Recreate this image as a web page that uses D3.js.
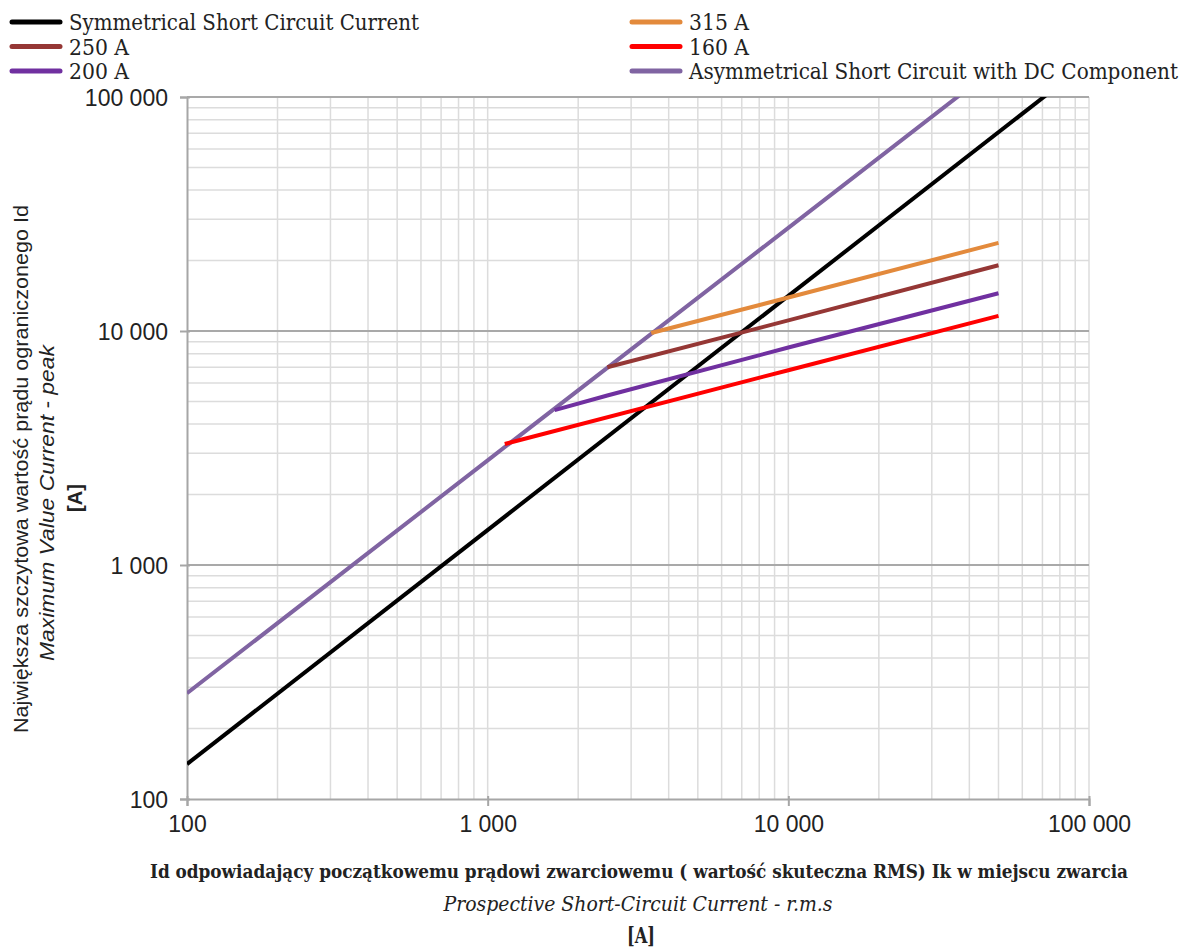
<!DOCTYPE html>
<html>
<head>
<meta charset="utf-8">
<script src="https://cdn.jsdelivr.net/npm/d3@7"></script>
<style>
  html, body { margin: 0; padding: 0; background: #fff; }
  svg { display: block; }
</style>
</head>
<body>
<svg id="chart" width="1184" height="948"></svg>
<script>
// axis ticks
const decadeTicks = [100, 1000, 10000, 100000];
const decadeLabels = ["100", "1 000", "10 000", "100 000"];

// series (x = prospective current Ik, y = peak current Id)
const symX = [100, 100000];
const symY = [141, 141421];
const asymX = [100, 1000, 10000, 40000];
const asymY = [283, 2800, 27600, 109600];
const i315X = [3500, 10000, 50000];
const i315Y = [9800, 13900, 23800];
const i250X = [2500, 10000, 50000];
const i250Y = [7000, 11100, 19100];
const i200X = [1670, 2500, 10000, 50000];
const i200Y = [4590, 5300, 8500, 14500];
const i160X = [1140, 10000, 50000];
const i160Y = [3290, 6800, 11600];

const seriesNames = ["Symmetrical Short Circuit Current", "250 A", "200 A",
  "315 A", "160 A", "Asymmetrical Short Circuit with DC Component"];
const seriesColors = ["#000000", "#953735", "#7030a0", "#e38a3c", "#ff0000", "#8064a2"];

const svg = d3.select("#chart");
const pLeft = 187, pRight = 1089, pTop = 97, pBottom = 799;

const x = d3.scaleLog().domain([100, 100000]).range([pLeft, pRight]);
const y = d3.scaleLog().domain([100, 100000]).range([pBottom, pTop]);

// minor ticks 2..9 for each decade
let minor = [];
decadeTicks.slice(0, 3).forEach(d => { for (let k = 2; k < 10; k++) minor.push(d * k); });

const grid = svg.append("g");
grid.selectAll(".vminor").data(minor.concat(decadeTicks.slice(1))).enter().append("line")
  .attr("x1", d => x(d)).attr("x2", d => x(d)).attr("y1", pTop).attr("y2", pBottom)
  .attr("stroke", "#dcdcdc").attr("stroke-width", 1.5);
grid.selectAll(".hminor").data(minor).enter().append("line")
  .attr("y1", d => y(d)).attr("y2", d => y(d)).attr("x1", pLeft).attr("x2", pRight)
  .attr("stroke", "#dcdcdc").attr("stroke-width", 1.5);
grid.selectAll(".hmajor").data(decadeTicks.slice(1)).enter().append("line")
  .attr("y1", d => y(d)).attr("y2", d => y(d)).attr("x1", pLeft).attr("x2", pRight)
  .attr("stroke", "#a9a9a9").attr("stroke-width", 2);

// axes
const xAxis = svg.append("g").attr("transform", `translate(0,${pBottom})`)
  .call(d3.axisBottom(x).tickValues(decadeTicks).tickFormat((d, i) => decadeLabels[i]).tickSize(7).tickPadding(10));
const yAxis = svg.append("g").attr("transform", `translate(${pLeft},0)`)
  .call(d3.axisLeft(y).tickValues(decadeTicks).tickFormat((d, i) => decadeLabels[i]).tickSize(7).tickPadding(12));
[xAxis, yAxis].forEach(a => {
  a.select(".domain").attr("stroke", "#a6a6a6").attr("stroke-width", 2);
  a.selectAll(".tick line").attr("stroke", "#a6a6a6").attr("stroke-width", 2);
  a.selectAll(".tick text").attr("fill", "#222").style("font-family", "'Liberation Sans', Arial, sans-serif").style("font-size", "23px");
});
xAxis.selectAll(".tick line").attr("y1", -3);
yAxis.selectAll(".tick line").attr("x1", 3);
yAxis.selectAll(".tick text").attr("dy", "0.36em");

// curves
svg.append("clipPath").attr("id", "plot").append("rect")
  .attr("x", pLeft).attr("y", pTop).attr("width", pRight - pLeft).attr("height", pBottom - pTop);
const line = d3.line().x(d => x(d[0])).y(d => y(d[1]));
const curves = [
  [symX, symY, 0], [asymX, asymY, 5], [i160X, i160Y, 4],
  [i200X, i200Y, 2], [i250X, i250Y, 1], [i315X, i315Y, 3]
];
const plot = svg.append("g").attr("clip-path", "url(#plot)");
curves.forEach(c => {
  plot.append("path").datum(d3.zip(c[0], c[1]))
    .attr("d", line).attr("fill", "none")
    .attr("stroke", seriesColors[c[2]]).attr("stroke-width", 4)
    .attr("stroke-linecap", "butt");
});

// legend
const serif = "'DejaVu Serif Condensed', 'DejaVu Serif', serif";
const legendWidths = [350, 60, 60, 60, 60, 489];
seriesNames.forEach((name, i) => {
  const col = i < 3 ? 0 : 1, row = i % 3;
  const lx = col === 0 ? 12 : 632, ly = 22 + row * 24.5;
  svg.append("line").attr("x1", lx).attr("x2", lx + 48).attr("y1", ly).attr("y2", ly)
    .attr("stroke", seriesColors[i]).attr("stroke-width", 5).attr("stroke-linecap", "round");
  svg.append("text").attr("x", lx + 57).attr("y", ly + 8)
    .attr("textLength", legendWidths[i]).attr("lengthAdjust", "spacingAndGlyphs")
    .style("font-family", serif).style("font-size", "22px").attr("fill", "#222").text(name);
});

// x-axis title
svg.append("text").attr("x", 639).attr("y", 878).attr("text-anchor", "middle")
  .attr("textLength", 978).attr("lengthAdjust", "spacingAndGlyphs")
  .style("font-family", serif).style("font-size", "18px").style("font-weight", "bold").attr("fill", "#222")
  .text("Id odpowiadający początkowemu prądowi zwarciowemu ( wartość skuteczna RMS) Ik w miejscu zwarcia");
svg.append("text").attr("x", 638).attr("y", 911).attr("text-anchor", "middle")
  .attr("textLength", 389).attr("lengthAdjust", "spacingAndGlyphs")
  .style("font-family", serif).style("font-size", "21px").style("font-style", "italic").attr("fill", "#222")
  .text("Prospective Short-Circuit Current - r.m.s");
svg.append("text").attr("x", 641).attr("y", 943).attr("text-anchor", "middle")
  .attr("textLength", 28).attr("lengthAdjust", "spacingAndGlyphs")
  .style("font-family", serif).style("font-size", "22px").style("font-weight", "bold").attr("fill", "#222")
  .text("[A]");

// y-axis title
const sans = "'Liberation Sans', Arial, sans-serif";
svg.append("text").attr("transform", "translate(28,469) rotate(-90)").attr("text-anchor", "middle")
  .attr("textLength", 528).attr("lengthAdjust", "spacingAndGlyphs")
  .style("font-family", sans).style("font-size", "20px").attr("fill", "#222")
  .text("Największa szczytowa wartość prądu ograniczonego Id");
svg.append("text").attr("transform", "translate(54,503) rotate(-90)").attr("text-anchor", "middle")
  .attr("textLength", 316).attr("lengthAdjust", "spacingAndGlyphs")
  .style("font-family", sans).style("font-size", "20px").style("font-style", "italic").attr("fill", "#222")
  .text("Maximum Value Current - peak");
svg.append("text").attr("transform", "translate(82,498) rotate(-90)").attr("text-anchor", "middle")
  .style("font-family", sans).style("font-size", "20px").style("font-weight", "bold").attr("fill", "#222")
  .text("[A]");
</script>
</body>
</html>
